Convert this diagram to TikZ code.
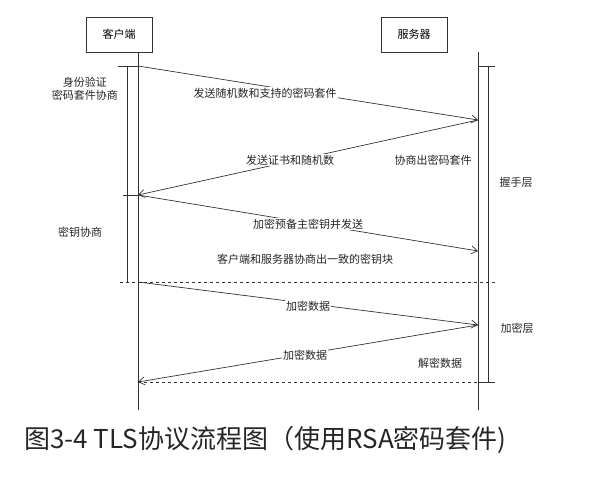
\documentclass[tikz,border=0pt]{standalone}
\usepackage{fontspec}
\setmainfont{Noto Sans CJK SC}
\usetikzlibrary{arrows.meta}
\begin{document}
\begin{tikzpicture}[x=1pt,y=-1pt,
  line/.style={draw=black!80,line width=0.7pt},
  msg/.style={line,-{Straight Barb[length=6pt,width=8pt]}},
  lbl/.style={font=\fontsize{11}{13}\selectfont,text=black!85,fill=white,inner sep=1pt},
  txt/.style={font=\fontsize{11}{13}\selectfont,text=black!85,align=center},
  box/.style={line,minimum width=66pt,minimum height=35pt,font=\fontsize{11}{13}\selectfont}]
\useasboundingbox (0,0) rectangle (606,492);
\node[box] (c) at (119,34.5) {客户端};
\node[box] (s) at (414,34.5) {服务器};
\coordinate (cb) at (138,410); \coordinate (sb) at (478,410);
\draw[line] (c.south -| cb) -- (cb);
\draw[line] (s.south -| sb) -- (sb);
% activation bars
\draw[line] (118,66) -- (138,66); \draw[line] (127,66) -- (127,282);
\draw[line] (123,195) -- (138,195);
\draw[line] (478,66) -- (495,66); \draw[line] (488,66) -- (488,382);
\draw[line] (478,382) -- (495,382);
\coordinate (a1) at (138,66); \coordinate (b1) at (478,120);
\coordinate (a2) at (138,195); \coordinate (b2) at (478,251);
\coordinate (a3) at (138,282); \coordinate (b3) at (478,325);
\coordinate (a4) at (138,382);
\coordinate (d1) at (120,282); \coordinate (e1) at (495,282);
\coordinate (e2) at (495,382);
\draw[msg] (a1) -- (b1);
\draw[msg] (b1) -- (a2);
\draw[msg] (a2) -- (b2);
\draw[msg] (a3) -- (b3);
\draw[msg] (b3) -- (a4);
\draw[line,dashed] (d1) -- (e1);
\draw[line,dashed] (a4) -- (e2);
\node[lbl] (l1) at (265,93) {发送随机数和支持的密码套件};
\node[lbl] (l2) at (290,160) {发送证书和随机数};
\node[lbl] (l3) at (433,160) {协商出密码套件};
\node[lbl] (l4) at (308,224) {加密预备主密钥并发送};
\node[lbl] (l5) at (305,259) {客户端和服务器协商出一致的密钥块};
\node[lbl] (l6) at (308,306) {加密数据};
\node[lbl] (l7) at (305,355) {加密数据};
\node[lbl] (l8) at (440,363) {解密数据};
\node[txt] (t1) at (85,89) {身份验证\\密码套件协商};
\node[txt] (t2) at (80,232) {密钥协商};
\node[txt] (t3) at (516,182) {握手层};
\node[txt] (t4) at (517,328) {加密层};
\node[font=\fontsize{26}{30}\selectfont,text=black!85,anchor=west,inner sep=0pt] (cap) at (24,440) {图3-4 TLS协议流程图（使用RSA密码套件)};
\end{tikzpicture}
\end{document}
